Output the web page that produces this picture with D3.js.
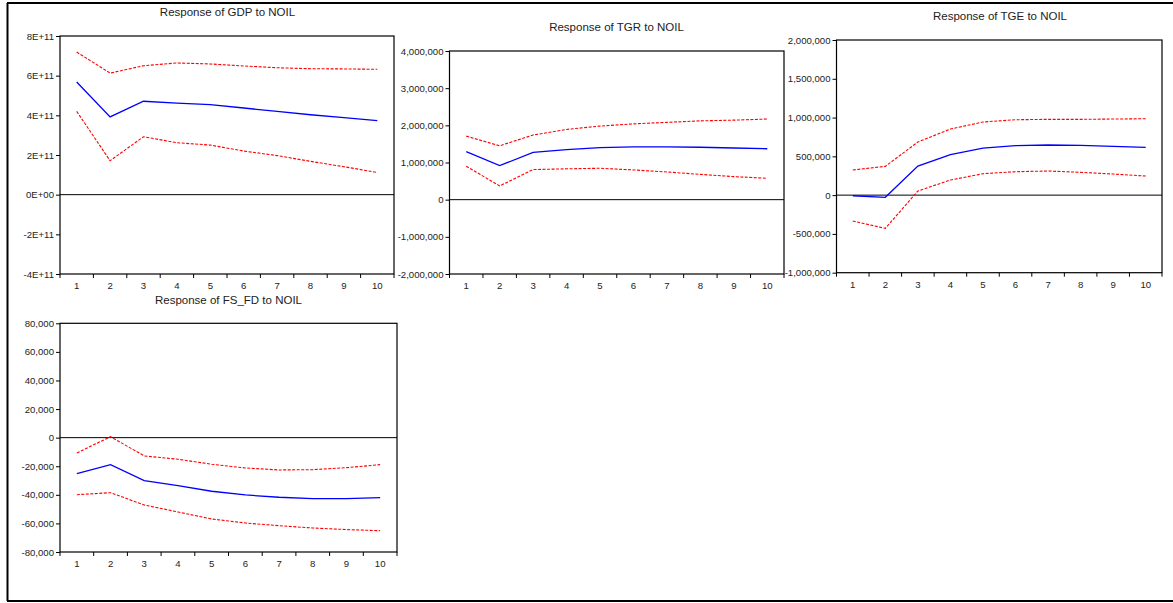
<!DOCTYPE html>
<html><head><meta charset="utf-8">
<script src="https://cdn.jsdelivr.net/npm/d3@7"></script>
<style>
html,body{margin:0;padding:0;background:#fff;}
svg{display:block;}
text{font-family:"Liberation Sans",Arial,sans-serif;fill:#222;}
</style></head>
<body>
<svg id="c" width="1173" height="603"></svg>
<script>
// ---- data ----
const periods = [1,2,3,4,5,6,7,8,9,10];

const titles = ["Response of GDP to NOIL","Response of TGR to NOIL","Response of TGE to NOIL","Response of FS_FD to NOIL"];

const gdpResp  = [5.68e11,3.92e11,4.71e11,4.62e11,4.54e11,4.37e11,4.20e11,4.03e11,3.88e11,3.73e11];
const gdpUpper = [7.19e11,6.13e11,6.50e11,6.64e11,6.59e11,6.49e11,6.40e11,6.35e11,6.34e11,6.32e11];
const gdpLower = [4.20e11,1.71e11,2.92e11,2.62e11,2.50e11,2.20e11,1.97e11,1.68e11,1.41e11,1.12e11];
const gdpTicks = [-4e11,-2e11,0,2e11,4e11,6e11,8e11];

const tgrResp  = [1290000,915000,1275000,1345000,1400000,1420000,1420000,1410000,1390000,1370000];
const tgrUpper = [1710000,1450000,1740000,1890000,1980000,2040000,2080000,2120000,2140000,2170000];
const tgrLower = [900000,370000,810000,830000,845000,800000,745000,680000,620000,575000];
const tgrTicks = [-2000000,-1000000,0,1000000,2000000,3000000,4000000];

const tgeResp  = [-8000,-28000,375000,521000,607000,637000,646000,642000,629000,616000];
const tgeUpper = [324000,371000,685000,852000,943000,972000,977000,977000,981000,985000];
const tgeLower = [-334000,-428000,53000,195000,276000,302000,311000,294000,272000,246000];
const tgeTicks = [-1000000,-500000,0,500000,1000000,1500000,2000000];

const fsResp  = [-25200,-18900,-30100,-33600,-37500,-40100,-41700,-42700,-42700,-42000];
const fsUpper = [-10700,700,-12800,-15100,-18600,-21200,-22600,-22400,-21000,-18900];
const fsLower = [-39900,-38500,-47100,-52000,-56900,-59700,-61600,-63200,-64300,-65100];
const fsTicks = [-80000,-60000,-40000,-20000,0,20000,40000,60000,80000];

// ---- layout ----
const svg = d3.select("#c");
const loc = d3.formatLocale({decimal:".",thousands:",",grouping:[3],currency:["$",""],minus:"-"});
const fmtComma = loc.format(",");
const fmtE = v => v===0 ? "0E+00" : (v<0?"-":"") + Math.abs(v/1e11) + "E+11";

const panels = [
  {title:titles[0], resp:gdpResp, up:gdpUpper, lo:gdpLower, ticks:gdpTicks, fmt:fmtE,
   l:60, r:394, t:36, b:274, tx:227.5, ty:15.5},
  {title:titles[1], resp:tgrResp, up:tgrUpper, lo:tgrLower, ticks:tgrTicks, fmt:fmtComma,
   l:449.5, r:784, t:51, b:274, tx:616.5, ty:30.5},
  {title:titles[2], resp:tgeResp, up:tgeUpper, lo:tgeLower, ticks:tgeTicks, fmt:fmtComma,
   l:836.5, r:1162, t:40, b:272.7, tx:1000, ty:19.5},
  {title:titles[3], resp:fsResp, up:fsUpper, lo:fsLower, ticks:fsTicks, fmt:fmtComma,
   l:60, r:397, t:323.3, b:552, tx:228.5, ty:304}
];

// outer border
svg.append("line").attr("x1",7.5).attr("x2",7.5).attr("y1",3).attr("y2",601).attr("stroke","#000").attr("stroke-width",2);
svg.append("line").attr("x1",7).attr("x2",1173).attr("y1",3).attr("y2",3).attr("stroke","#000").attr("stroke-width",2.2);
svg.append("line").attr("x1",7).attr("x2",1173).attr("y1",601).attr("y2",601).attr("stroke","#000").attr("stroke-width",2);

panels.forEach(p => {
  const g = svg.append("g");
  const x = d3.scaleBand().domain(periods).range([p.l, p.r]).paddingInner(0).paddingOuter(0);
  const y = d3.scaleLinear().domain([d3.min(p.ticks), d3.max(p.ticks)]).range([p.b, p.t]);
  const cx = d => x(d) + x.bandwidth()/2;

  // title
  g.append("text").attr("x",p.tx).attr("y",p.ty).attr("text-anchor","middle")
    .attr("font-size","11.5px").text(p.title);

  // y axis
  const ya = d3.axisLeft(y).tickValues(p.ticks).tickFormat(p.fmt).tickSize(4).tickPadding(2).tickSizeOuter(0);
  const yg = g.append("g").attr("transform",`translate(${p.l},0)`).call(ya);
  yg.select(".domain").remove();
  yg.selectAll("text").attr("font-size","9.6px").attr("fill","#222").style("font-family","Liberation Sans, Arial, sans-serif");
  yg.selectAll("line").attr("stroke","#000");

  // x axis labels
  const xa = d3.axisBottom(x).tickSize(0).tickPadding(8);
  const xg = g.append("g").attr("transform",`translate(0,${p.b})`).call(xa);
  xg.select(".domain").remove();
  xg.selectAll("text").attr("font-size","9.6px").attr("fill","#222").style("font-family","Liberation Sans, Arial, sans-serif");
  // x tick marks at band boundaries
  const bounds = periods.map(d => x(d)).concat([x.range()[1]]);
  g.selectAll(null).data(bounds).enter().append("line")
    .attr("x1",d=>d).attr("x2",d=>d).attr("y1",p.b).attr("y2",p.b+4).attr("stroke","#000");

  // frame
  g.append("rect").attr("x",p.l).attr("y",p.t).attr("width",p.r-p.l).attr("height",p.b-p.t)
    .attr("fill","none").attr("stroke","#000").attr("stroke-width",1.2);
  // zero line
  g.append("line").attr("x1",p.l).attr("x2",p.r).attr("y1",y(0)).attr("y2",y(0)).attr("stroke","#000").attr("stroke-width",1);

  const line = d3.line().x((d,i)=>cx(periods[i])).y(d=>y(d));
  g.append("path").attr("d",line(p.up)).attr("fill","none").attr("stroke","#ff0000").attr("stroke-width",1.1).attr("stroke-dasharray","3,1.5");
  g.append("path").attr("d",line(p.lo)).attr("fill","none").attr("stroke","#ff0000").attr("stroke-width",1.1).attr("stroke-dasharray","3,1.5");
  g.append("path").attr("d",line(p.resp)).attr("fill","none").attr("stroke","#0000ff").attr("stroke-width",1.3);
});
</script>
</body></html>
